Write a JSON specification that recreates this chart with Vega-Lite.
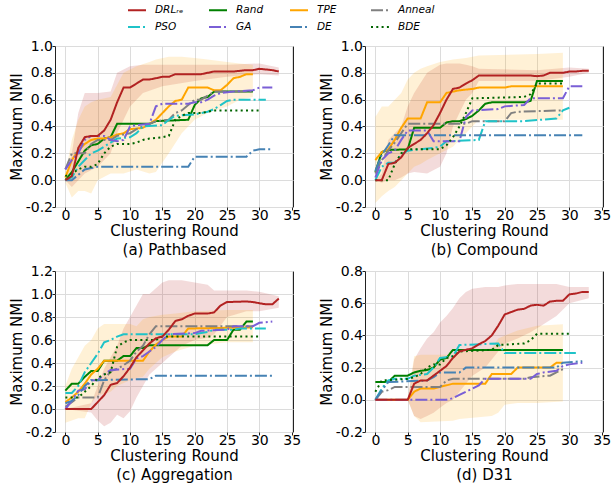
{
"$schema":"https://vega.github.io/schema/vega-lite/v6.json",
"background":"white",
"padding":{"left":8,"top":0,"right":0,"bottom":0},
"datasets":{
"lines":[
{"p":"a","m":"Rand","x":0,"y":0},{"p":"a","m":"Rand","x":1,"y":0.06},{"p":"a","m":"Rand","x":2,"y":0.14},{"p":"a","m":"Rand","x":3,"y":0.22},{"p":"a","m":"Rand","x":4,"y":0.26},{"p":"a","m":"Rand","x":5,"y":0.27},{"p":"a","m":"Rand","x":6,"y":0.31},{"p":"a","m":"Rand","x":7,"y":0.32},{"p":"a","m":"Rand","x":8,"y":0.42},{"p":"a","m":"Rand","x":13,"y":0.42},{"p":"a","m":"Rand","x":14,"y":0.44},{"p":"a","m":"Rand","x":19,"y":0.45},{"p":"a","m":"Rand","x":20,"y":0.56},{"p":"a","m":"Rand","x":21,"y":0.61},{"p":"a","m":"Rand","x":22,"y":0.62},{"p":"a","m":"Rand","x":23,"y":0.66},{"p":"a","m":"Rand","x":29,"y":0.66},
{"p":"a","m":"TPE","x":0,"y":0.02},{"p":"a","m":"TPE","x":1,"y":0.15},{"p":"a","m":"TPE","x":2,"y":0.22},{"p":"a","m":"TPE","x":3,"y":0.27},{"p":"a","m":"TPE","x":4,"y":0.3},{"p":"a","m":"TPE","x":5,"y":0.31},{"p":"a","m":"TPE","x":6,"y":0.31},{"p":"a","m":"TPE","x":7,"y":0.32},{"p":"a","m":"TPE","x":8,"y":0.34},{"p":"a","m":"TPE","x":9,"y":0.35},{"p":"a","m":"TPE","x":10,"y":0.38},{"p":"a","m":"TPE","x":12,"y":0.39},{"p":"a","m":"TPE","x":13,"y":0.42},{"p":"a","m":"TPE","x":14,"y":0.45},{"p":"a","m":"TPE","x":15,"y":0.5},{"p":"a","m":"TPE","x":16,"y":0.55},{"p":"a","m":"TPE","x":17,"y":0.59},{"p":"a","m":"TPE","x":18,"y":0.6},{"p":"a","m":"TPE","x":19,"y":0.69},{"p":"a","m":"TPE","x":22,"y":0.69},{"p":"a","m":"TPE","x":23,"y":0.67},{"p":"a","m":"TPE","x":24,"y":0.67},{"p":"a","m":"TPE","x":25,"y":0.71},{"p":"a","m":"TPE","x":26,"y":0.76},{"p":"a","m":"TPE","x":27,"y":0.77},{"p":"a","m":"TPE","x":28,"y":0.79},{"p":"a","m":"TPE","x":29,"y":0.79},
{"p":"a","m":"Anneal","x":0,"y":0.08},{"p":"a","m":"Anneal","x":1,"y":0.2},{"p":"a","m":"Anneal","x":3,"y":0.2},{"p":"a","m":"Anneal","x":4,"y":0.27},{"p":"a","m":"Anneal","x":5,"y":0.3},{"p":"a","m":"Anneal","x":7,"y":0.3},{"p":"a","m":"Anneal","x":8,"y":0.33},{"p":"a","m":"Anneal","x":10,"y":0.35},{"p":"a","m":"Anneal","x":11,"y":0.38},{"p":"a","m":"Anneal","x":12,"y":0.4},{"p":"a","m":"Anneal","x":13,"y":0.42},{"p":"a","m":"Anneal","x":14,"y":0.44},{"p":"a","m":"Anneal","x":16,"y":0.45},{"p":"a","m":"Anneal","x":17,"y":0.5},{"p":"a","m":"Anneal","x":18,"y":0.52},{"p":"a","m":"Anneal","x":19,"y":0.56},{"p":"a","m":"Anneal","x":20,"y":0.6},{"p":"a","m":"Anneal","x":21,"y":0.6},{"p":"a","m":"Anneal","x":22,"y":0.63},{"p":"a","m":"Anneal","x":23,"y":0.66},{"p":"a","m":"Anneal","x":29,"y":0.66},
{"p":"a","m":"PSO","x":0,"y":0},{"p":"a","m":"PSO","x":1,"y":0.02},{"p":"a","m":"PSO","x":2,"y":0.1},{"p":"a","m":"PSO","x":3,"y":0.15},{"p":"a","m":"PSO","x":4,"y":0.2},{"p":"a","m":"PSO","x":5,"y":0.22},{"p":"a","m":"PSO","x":6,"y":0.25},{"p":"a","m":"PSO","x":7,"y":0.28},{"p":"a","m":"PSO","x":8,"y":0.31},{"p":"a","m":"PSO","x":10,"y":0.32},{"p":"a","m":"PSO","x":11,"y":0.35},{"p":"a","m":"PSO","x":12,"y":0.4},{"p":"a","m":"PSO","x":15,"y":0.41},{"p":"a","m":"PSO","x":16,"y":0.45},{"p":"a","m":"PSO","x":17,"y":0.48},{"p":"a","m":"PSO","x":20,"y":0.49},{"p":"a","m":"PSO","x":22,"y":0.51},{"p":"a","m":"PSO","x":23,"y":0.53},{"p":"a","m":"PSO","x":24,"y":0.56},{"p":"a","m":"PSO","x":25,"y":0.59},{"p":"a","m":"PSO","x":26,"y":0.6},{"p":"a","m":"PSO","x":31,"y":0.6},
{"p":"a","m":"GA","x":0,"y":0.08},{"p":"a","m":"GA","x":1,"y":0.15},{"p":"a","m":"GA","x":2,"y":0.2},{"p":"a","m":"GA","x":3,"y":0.3},{"p":"a","m":"GA","x":4,"y":0.33},{"p":"a","m":"GA","x":6,"y":0.33},{"p":"a","m":"GA","x":7,"y":0.3},{"p":"a","m":"GA","x":8,"y":0.29},{"p":"a","m":"GA","x":9,"y":0.3},{"p":"a","m":"GA","x":10,"y":0.4},{"p":"a","m":"GA","x":11,"y":0.41},{"p":"a","m":"GA","x":13,"y":0.42},{"p":"a","m":"GA","x":14,"y":0.55},{"p":"a","m":"GA","x":15,"y":0.57},{"p":"a","m":"GA","x":19,"y":0.57},{"p":"a","m":"GA","x":20,"y":0.58},{"p":"a","m":"GA","x":21,"y":0.58},{"p":"a","m":"GA","x":22,"y":0.6},{"p":"a","m":"GA","x":23,"y":0.63},{"p":"a","m":"GA","x":24,"y":0.65},{"p":"a","m":"GA","x":26,"y":0.66},{"p":"a","m":"GA","x":29,"y":0.67},{"p":"a","m":"GA","x":30,"y":0.69},{"p":"a","m":"GA","x":32,"y":0.69},
{"p":"a","m":"DE","x":0,"y":0},{"p":"a","m":"DE","x":1,"y":0},{"p":"a","m":"DE","x":2,"y":0.04},{"p":"a","m":"DE","x":3,"y":0.08},{"p":"a","m":"DE","x":4,"y":0.09},{"p":"a","m":"DE","x":5,"y":0.1},{"p":"a","m":"DE","x":19,"y":0.1},{"p":"a","m":"DE","x":20,"y":0.175},{"p":"a","m":"DE","x":28,"y":0.175},{"p":"a","m":"DE","x":29,"y":0.22},{"p":"a","m":"DE","x":30,"y":0.23},{"p":"a","m":"DE","x":32,"y":0.23},
{"p":"a","m":"BDE","x":0,"y":0.03},{"p":"a","m":"BDE","x":1,"y":0.05},{"p":"a","m":"BDE","x":2,"y":0.08},{"p":"a","m":"BDE","x":3,"y":0.1},{"p":"a","m":"BDE","x":4,"y":0.1},{"p":"a","m":"BDE","x":5,"y":0.12},{"p":"a","m":"BDE","x":6,"y":0.2},{"p":"a","m":"BDE","x":7,"y":0.25},{"p":"a","m":"BDE","x":8,"y":0.27},{"p":"a","m":"BDE","x":10,"y":0.27},{"p":"a","m":"BDE","x":11,"y":0.28},{"p":"a","m":"BDE","x":12,"y":0.3},{"p":"a","m":"BDE","x":13,"y":0.31},{"p":"a","m":"BDE","x":15,"y":0.32},{"p":"a","m":"BDE","x":16,"y":0.33},{"p":"a","m":"BDE","x":17,"y":0.45},{"p":"a","m":"BDE","x":18,"y":0.48},{"p":"a","m":"BDE","x":19,"y":0.5},{"p":"a","m":"BDE","x":21,"y":0.5},{"p":"a","m":"BDE","x":22,"y":0.51},{"p":"a","m":"BDE","x":23,"y":0.52},{"p":"a","m":"BDE","x":30,"y":0.52},
{"p":"a","m":"DRL","x":0,"y":0},{"p":"a","m":"DRL","x":1,"y":0.03},{"p":"a","m":"DRL","x":2,"y":0.24},{"p":"a","m":"DRL","x":3,"y":0.32},{"p":"a","m":"DRL","x":4,"y":0.33},{"p":"a","m":"DRL","x":5,"y":0.33},{"p":"a","m":"DRL","x":6,"y":0.37},{"p":"a","m":"DRL","x":7,"y":0.45},{"p":"a","m":"DRL","x":8,"y":0.58},{"p":"a","m":"DRL","x":9,"y":0.69},{"p":"a","m":"DRL","x":10,"y":0.69},{"p":"a","m":"DRL","x":11,"y":0.72},{"p":"a","m":"DRL","x":12,"y":0.75},{"p":"a","m":"DRL","x":13,"y":0.75},{"p":"a","m":"DRL","x":14,"y":0.76},{"p":"a","m":"DRL","x":15,"y":0.77},{"p":"a","m":"DRL","x":16,"y":0.77},{"p":"a","m":"DRL","x":17,"y":0.79},{"p":"a","m":"DRL","x":21,"y":0.79},{"p":"a","m":"DRL","x":22,"y":0.8},{"p":"a","m":"DRL","x":23,"y":0.81},{"p":"a","m":"DRL","x":26,"y":0.81},{"p":"a","m":"DRL","x":27,"y":0.815},{"p":"a","m":"DRL","x":28,"y":0.82},{"p":"a","m":"DRL","x":29,"y":0.82},{"p":"a","m":"DRL","x":30,"y":0.83},{"p":"a","m":"DRL","x":31,"y":0.825},{"p":"a","m":"DRL","x":32,"y":0.82},{"p":"a","m":"DRL","x":33,"y":0.81},

{"p":"b","m":"Rand","x":0,"y":0.06},{"p":"b","m":"Rand","x":1,"y":0.21},{"p":"b","m":"Rand","x":2,"y":0.225},{"p":"b","m":"Rand","x":5,"y":0.23},{"p":"b","m":"Rand","x":6,"y":0.39},{"p":"b","m":"Rand","x":10,"y":0.39},{"p":"b","m":"Rand","x":11,"y":0.43},{"p":"b","m":"Rand","x":12,"y":0.44},{"p":"b","m":"Rand","x":13,"y":0.44},{"p":"b","m":"Rand","x":14,"y":0.455},{"p":"b","m":"Rand","x":15,"y":0.48},{"p":"b","m":"Rand","x":16,"y":0.52},{"p":"b","m":"Rand","x":17,"y":0.57},{"p":"b","m":"Rand","x":18,"y":0.58},{"p":"b","m":"Rand","x":23,"y":0.58},{"p":"b","m":"Rand","x":24,"y":0.59},{"p":"b","m":"Rand","x":25,"y":0.74},{"p":"b","m":"Rand","x":29,"y":0.74},
{"p":"b","m":"TPE","x":0,"y":0.15},{"p":"b","m":"TPE","x":1,"y":0.21},{"p":"b","m":"TPE","x":2,"y":0.23},{"p":"b","m":"TPE","x":3,"y":0.3},{"p":"b","m":"TPE","x":4,"y":0.39},{"p":"b","m":"TPE","x":5,"y":0.46},{"p":"b","m":"TPE","x":7,"y":0.46},{"p":"b","m":"TPE","x":8,"y":0.58},{"p":"b","m":"TPE","x":10,"y":0.58},{"p":"b","m":"TPE","x":11,"y":0.65},{"p":"b","m":"TPE","x":12,"y":0.66},{"p":"b","m":"TPE","x":13,"y":0.67},{"p":"b","m":"TPE","x":15,"y":0.68},{"p":"b","m":"TPE","x":16,"y":0.69},{"p":"b","m":"TPE","x":20,"y":0.69},{"p":"b","m":"TPE","x":21,"y":0.7},{"p":"b","m":"TPE","x":29,"y":0.7},
{"p":"b","m":"Anneal","x":0,"y":0.05},{"p":"b","m":"Anneal","x":1,"y":0.15},{"p":"b","m":"Anneal","x":2,"y":0.22},{"p":"b","m":"Anneal","x":3,"y":0.28},{"p":"b","m":"Anneal","x":4,"y":0.35},{"p":"b","m":"Anneal","x":5,"y":0.42},{"p":"b","m":"Anneal","x":14,"y":0.42},{"p":"b","m":"Anneal","x":15,"y":0.44},{"p":"b","m":"Anneal","x":20,"y":0.44},{"p":"b","m":"Anneal","x":21,"y":0.5},{"p":"b","m":"Anneal","x":22,"y":0.51},{"p":"b","m":"Anneal","x":29,"y":0.52},
{"p":"b","m":"PSO","x":0,"y":0},{"p":"b","m":"PSO","x":1,"y":0.1},{"p":"b","m":"PSO","x":2,"y":0.13},{"p":"b","m":"PSO","x":3,"y":0.13},{"p":"b","m":"PSO","x":4,"y":0.19},{"p":"b","m":"PSO","x":5,"y":0.22},{"p":"b","m":"PSO","x":9,"y":0.24},{"p":"b","m":"PSO","x":10,"y":0.25},{"p":"b","m":"PSO","x":11,"y":0.29},{"p":"b","m":"PSO","x":16,"y":0.3},{"p":"b","m":"PSO","x":17,"y":0.44},{"p":"b","m":"PSO","x":23,"y":0.44},{"p":"b","m":"PSO","x":28,"y":0.46},{"p":"b","m":"PSO","x":29,"y":0.52},{"p":"b","m":"PSO","x":30,"y":0.54},
{"p":"b","m":"GA","x":0,"y":0.02},{"p":"b","m":"GA","x":1,"y":0.15},{"p":"b","m":"GA","x":2,"y":0.2},{"p":"b","m":"GA","x":3,"y":0.22},{"p":"b","m":"GA","x":4,"y":0.3},{"p":"b","m":"GA","x":5,"y":0.37},{"p":"b","m":"GA","x":8,"y":0.37},{"p":"b","m":"GA","x":9,"y":0.29},{"p":"b","m":"GA","x":13,"y":0.29},{"p":"b","m":"GA","x":14,"y":0.47},{"p":"b","m":"GA","x":15,"y":0.52},{"p":"b","m":"GA","x":19,"y":0.53},{"p":"b","m":"GA","x":20,"y":0.55},{"p":"b","m":"GA","x":23,"y":0.56},{"p":"b","m":"GA","x":24,"y":0.61},{"p":"b","m":"GA","x":29,"y":0.61},{"p":"b","m":"GA","x":30,"y":0.7},{"p":"b","m":"GA","x":32,"y":0.7},
{"p":"b","m":"DE","x":0,"y":0.07},{"p":"b","m":"DE","x":1,"y":0.19},{"p":"b","m":"DE","x":2,"y":0.26},{"p":"b","m":"DE","x":3,"y":0.335},{"p":"b","m":"DE","x":32,"y":0.335},
{"p":"b","m":"BDE","x":0,"y":0},{"p":"b","m":"BDE","x":2,"y":0},{"p":"b","m":"BDE","x":3,"y":0.12},{"p":"b","m":"BDE","x":4,"y":0.2},{"p":"b","m":"BDE","x":5,"y":0.23},{"p":"b","m":"BDE","x":10,"y":0.23},{"p":"b","m":"BDE","x":11,"y":0.26},{"p":"b","m":"BDE","x":12,"y":0.32},{"p":"b","m":"BDE","x":13,"y":0.4},{"p":"b","m":"BDE","x":14,"y":0.5},{"p":"b","m":"BDE","x":15,"y":0.61},{"p":"b","m":"BDE","x":23,"y":0.62},{"p":"b","m":"BDE","x":24,"y":0.64},{"p":"b","m":"BDE","x":25,"y":0.72},{"p":"b","m":"BDE","x":29,"y":0.72},
{"p":"b","m":"DRL","x":0,"y":0},{"p":"b","m":"DRL","x":1,"y":0},{"p":"b","m":"DRL","x":2,"y":0.12},{"p":"b","m":"DRL","x":3,"y":0.13},{"p":"b","m":"DRL","x":4,"y":0.17},{"p":"b","m":"DRL","x":5,"y":0.24},{"p":"b","m":"DRL","x":6,"y":0.27},{"p":"b","m":"DRL","x":7,"y":0.3},{"p":"b","m":"DRL","x":8,"y":0.35},{"p":"b","m":"DRL","x":9,"y":0.41},{"p":"b","m":"DRL","x":10,"y":0.5},{"p":"b","m":"DRL","x":11,"y":0.6},{"p":"b","m":"DRL","x":12,"y":0.68},{"p":"b","m":"DRL","x":13,"y":0.69},{"p":"b","m":"DRL","x":14,"y":0.72},{"p":"b","m":"DRL","x":15,"y":0.745},{"p":"b","m":"DRL","x":16,"y":0.78},{"p":"b","m":"DRL","x":24,"y":0.78},{"p":"b","m":"DRL","x":25,"y":0.775},{"p":"b","m":"DRL","x":26,"y":0.78},{"p":"b","m":"DRL","x":27,"y":0.8},{"p":"b","m":"DRL","x":29,"y":0.8},{"p":"b","m":"DRL","x":30,"y":0.81},{"p":"b","m":"DRL","x":31,"y":0.81},{"p":"b","m":"DRL","x":32,"y":0.815},{"p":"b","m":"DRL","x":33,"y":0.815},

{"p":"c","m":"Rand","x":0,"y":0.16},{"p":"c","m":"Rand","x":1,"y":0.22},{"p":"c","m":"Rand","x":2,"y":0.22},{"p":"c","m":"Rand","x":3,"y":0.28},{"p":"c","m":"Rand","x":4,"y":0.33},{"p":"c","m":"Rand","x":5,"y":0.33},{"p":"c","m":"Rand","x":6,"y":0.42},{"p":"c","m":"Rand","x":8,"y":0.42},{"p":"c","m":"Rand","x":9,"y":0.46},{"p":"c","m":"Rand","x":10,"y":0.46},{"p":"c","m":"Rand","x":11,"y":0.53},{"p":"c","m":"Rand","x":12,"y":0.53},{"p":"c","m":"Rand","x":13,"y":0.555},{"p":"c","m":"Rand","x":22,"y":0.555},{"p":"c","m":"Rand","x":23,"y":0.6},{"p":"c","m":"Rand","x":25,"y":0.6},{"p":"c","m":"Rand","x":26,"y":0.69},{"p":"c","m":"Rand","x":27,"y":0.69},{"p":"c","m":"Rand","x":28,"y":0.76},{"p":"c","m":"Rand","x":29,"y":0.76},
{"p":"c","m":"TPE","x":0,"y":0.06},{"p":"c","m":"TPE","x":1,"y":0.1},{"p":"c","m":"TPE","x":2,"y":0.15},{"p":"c","m":"TPE","x":3,"y":0.22},{"p":"c","m":"TPE","x":4,"y":0.3},{"p":"c","m":"TPE","x":5,"y":0.35},{"p":"c","m":"TPE","x":6,"y":0.42},{"p":"c","m":"TPE","x":12,"y":0.42},{"p":"c","m":"TPE","x":13,"y":0.5},{"p":"c","m":"TPE","x":14,"y":0.56},{"p":"c","m":"TPE","x":15,"y":0.6},{"p":"c","m":"TPE","x":16,"y":0.63},{"p":"c","m":"TPE","x":18,"y":0.63},{"p":"c","m":"TPE","x":19,"y":0.7},{"p":"c","m":"TPE","x":29,"y":0.71},
{"p":"c","m":"Anneal","x":0,"y":0.02},{"p":"c","m":"Anneal","x":1,"y":0.06},{"p":"c","m":"Anneal","x":2,"y":0.1},{"p":"c","m":"Anneal","x":5,"y":0.1},{"p":"c","m":"Anneal","x":6,"y":0.25},{"p":"c","m":"Anneal","x":7,"y":0.33},{"p":"c","m":"Anneal","x":8,"y":0.35},{"p":"c","m":"Anneal","x":9,"y":0.38},{"p":"c","m":"Anneal","x":10,"y":0.42},{"p":"c","m":"Anneal","x":11,"y":0.5},{"p":"c","m":"Anneal","x":12,"y":0.55},{"p":"c","m":"Anneal","x":13,"y":0.65},{"p":"c","m":"Anneal","x":14,"y":0.72},{"p":"c","m":"Anneal","x":29,"y":0.72},
{"p":"c","m":"PSO","x":0,"y":0.14},{"p":"c","m":"PSO","x":1,"y":0.14},{"p":"c","m":"PSO","x":2,"y":0.2},{"p":"c","m":"PSO","x":3,"y":0.32},{"p":"c","m":"PSO","x":4,"y":0.4},{"p":"c","m":"PSO","x":5,"y":0.48},{"p":"c","m":"PSO","x":6,"y":0.58},{"p":"c","m":"PSO","x":7,"y":0.6},{"p":"c","m":"PSO","x":8,"y":0.63},{"p":"c","m":"PSO","x":9,"y":0.65},{"p":"c","m":"PSO","x":20,"y":0.65},{"p":"c","m":"PSO","x":21,"y":0.66},{"p":"c","m":"PSO","x":22,"y":0.67},{"p":"c","m":"PSO","x":23,"y":0.69},{"p":"c","m":"PSO","x":26,"y":0.69},{"p":"c","m":"PSO","x":27,"y":0.7},{"p":"c","m":"PSO","x":31,"y":0.7},
{"p":"c","m":"GA","x":0,"y":0},{"p":"c","m":"GA","x":1,"y":0.07},{"p":"c","m":"GA","x":2,"y":0.16},{"p":"c","m":"GA","x":3,"y":0.17},{"p":"c","m":"GA","x":4,"y":0.25},{"p":"c","m":"GA","x":5,"y":0.25},{"p":"c","m":"GA","x":6,"y":0.3},{"p":"c","m":"GA","x":7,"y":0.34},{"p":"c","m":"GA","x":10,"y":0.35},{"p":"c","m":"GA","x":11,"y":0.44},{"p":"c","m":"GA","x":12,"y":0.46},{"p":"c","m":"GA","x":13,"y":0.5},{"p":"c","m":"GA","x":14,"y":0.54},{"p":"c","m":"GA","x":15,"y":0.6},{"p":"c","m":"GA","x":16,"y":0.65},{"p":"c","m":"GA","x":20,"y":0.66},{"p":"c","m":"GA","x":21,"y":0.68},{"p":"c","m":"GA","x":25,"y":0.69},{"p":"c","m":"GA","x":26,"y":0.72},{"p":"c","m":"GA","x":29,"y":0.72},{"p":"c","m":"GA","x":30,"y":0.75},{"p":"c","m":"GA","x":32,"y":0.76},
{"p":"c","m":"DE","x":0,"y":0.05},{"p":"c","m":"DE","x":1,"y":0.07},{"p":"c","m":"DE","x":2,"y":0.12},{"p":"c","m":"DE","x":3,"y":0.2},{"p":"c","m":"DE","x":4,"y":0.25},{"p":"c","m":"DE","x":13,"y":0.26},{"p":"c","m":"DE","x":14,"y":0.29},{"p":"c","m":"DE","x":32,"y":0.29},
{"p":"c","m":"BDE","x":0,"y":0.1},{"p":"c","m":"BDE","x":2,"y":0.1},{"p":"c","m":"BDE","x":3,"y":0.15},{"p":"c","m":"BDE","x":4,"y":0.2},{"p":"c","m":"BDE","x":5,"y":0.27},{"p":"c","m":"BDE","x":6,"y":0.3},{"p":"c","m":"BDE","x":7,"y":0.32},{"p":"c","m":"BDE","x":8,"y":0.54},{"p":"c","m":"BDE","x":9,"y":0.58},{"p":"c","m":"BDE","x":10,"y":0.6},{"p":"c","m":"BDE","x":14,"y":0.6},{"p":"c","m":"BDE","x":15,"y":0.63},{"p":"c","m":"BDE","x":30,"y":0.63},
{"p":"c","m":"DRL","x":0,"y":0},{"p":"c","m":"DRL","x":4,"y":0},{"p":"c","m":"DRL","x":5,"y":0.06},{"p":"c","m":"DRL","x":6,"y":0.12},{"p":"c","m":"DRL","x":7,"y":0.21},{"p":"c","m":"DRL","x":8,"y":0.225},{"p":"c","m":"DRL","x":9,"y":0.285},{"p":"c","m":"DRL","x":10,"y":0.36},{"p":"c","m":"DRL","x":11,"y":0.45},{"p":"c","m":"DRL","x":12,"y":0.51},{"p":"c","m":"DRL","x":13,"y":0.57},{"p":"c","m":"DRL","x":14,"y":0.615},{"p":"c","m":"DRL","x":15,"y":0.63},{"p":"c","m":"DRL","x":16,"y":0.69},{"p":"c","m":"DRL","x":17,"y":0.765},{"p":"c","m":"DRL","x":18,"y":0.78},{"p":"c","m":"DRL","x":19,"y":0.81},{"p":"c","m":"DRL","x":20,"y":0.83},{"p":"c","m":"DRL","x":22,"y":0.83},{"p":"c","m":"DRL","x":23,"y":0.84},{"p":"c","m":"DRL","x":24,"y":0.9},{"p":"c","m":"DRL","x":25,"y":0.93},{"p":"c","m":"DRL","x":28,"y":0.935},{"p":"c","m":"DRL","x":29,"y":0.93},{"p":"c","m":"DRL","x":30,"y":0.92},{"p":"c","m":"DRL","x":31,"y":0.91},{"p":"c","m":"DRL","x":32,"y":0.91},{"p":"c","m":"DRL","x":33,"y":0.96},

{"p":"d","m":"Rand","x":0,"y":0.11},{"p":"d","m":"Rand","x":2,"y":0.11},{"p":"d","m":"Rand","x":3,"y":0.15},{"p":"d","m":"Rand","x":5,"y":0.15},{"p":"d","m":"Rand","x":6,"y":0.17},{"p":"d","m":"Rand","x":7,"y":0.18},{"p":"d","m":"Rand","x":8,"y":0.185},{"p":"d","m":"Rand","x":9,"y":0.2},{"p":"d","m":"Rand","x":10,"y":0.25},{"p":"d","m":"Rand","x":11,"y":0.26},{"p":"d","m":"Rand","x":12,"y":0.31},{"p":"d","m":"Rand","x":29,"y":0.31},
{"p":"d","m":"TPE","x":0,"y":0},{"p":"d","m":"TPE","x":5,"y":0},{"p":"d","m":"TPE","x":6,"y":0.05},{"p":"d","m":"TPE","x":7,"y":0.07},{"p":"d","m":"TPE","x":9,"y":0.07},{"p":"d","m":"TPE","x":10,"y":0.08},{"p":"d","m":"TPE","x":11,"y":0.09},{"p":"d","m":"TPE","x":12,"y":0.1},{"p":"d","m":"TPE","x":17,"y":0.1},{"p":"d","m":"TPE","x":18,"y":0.16},{"p":"d","m":"TPE","x":21,"y":0.16},{"p":"d","m":"TPE","x":22,"y":0.2},{"p":"d","m":"TPE","x":27,"y":0.2},{"p":"d","m":"TPE","x":28,"y":0.23},{"p":"d","m":"TPE","x":29,"y":0.23},
{"p":"d","m":"Anneal","x":0,"y":0},{"p":"d","m":"Anneal","x":1,"y":0.05},{"p":"d","m":"Anneal","x":2,"y":0.06},{"p":"d","m":"Anneal","x":3,"y":0.08},{"p":"d","m":"Anneal","x":10,"y":0.08},{"p":"d","m":"Anneal","x":11,"y":0.12},{"p":"d","m":"Anneal","x":12,"y":0.13},{"p":"d","m":"Anneal","x":23,"y":0.13},{"p":"d","m":"Anneal","x":24,"y":0.14},{"p":"d","m":"Anneal","x":27,"y":0.15},{"p":"d","m":"Anneal","x":28,"y":0.17},{"p":"d","m":"Anneal","x":29,"y":0.19},
{"p":"d","m":"PSO","x":0,"y":0},{"p":"d","m":"PSO","x":1,"y":0.07},{"p":"d","m":"PSO","x":2,"y":0.12},{"p":"d","m":"PSO","x":3,"y":0.13},{"p":"d","m":"PSO","x":5,"y":0.13},{"p":"d","m":"PSO","x":6,"y":0.15},{"p":"d","m":"PSO","x":8,"y":0.16},{"p":"d","m":"PSO","x":9,"y":0.2},{"p":"d","m":"PSO","x":10,"y":0.26},{"p":"d","m":"PSO","x":12,"y":0.27},{"p":"d","m":"PSO","x":13,"y":0.34},{"p":"d","m":"PSO","x":19,"y":0.35},{"p":"d","m":"PSO","x":20,"y":0.29},{"p":"d","m":"PSO","x":31,"y":0.29},
{"p":"d","m":"GA","x":0,"y":0},{"p":"d","m":"GA","x":11,"y":0},{"p":"d","m":"GA","x":12,"y":0.01},{"p":"d","m":"GA","x":13,"y":0.03},{"p":"d","m":"GA","x":14,"y":0.05},{"p":"d","m":"GA","x":15,"y":0.07},{"p":"d","m":"GA","x":16,"y":0.09},{"p":"d","m":"GA","x":17,"y":0.13},{"p":"d","m":"GA","x":24,"y":0.13},{"p":"d","m":"GA","x":25,"y":0.16},{"p":"d","m":"GA","x":26,"y":0.17},{"p":"d","m":"GA","x":28,"y":0.18},{"p":"d","m":"GA","x":29,"y":0.21},{"p":"d","m":"GA","x":30,"y":0.22},{"p":"d","m":"GA","x":32,"y":0.23},
{"p":"d","m":"DE","x":0,"y":0},{"p":"d","m":"DE","x":1,"y":0.06},{"p":"d","m":"DE","x":2,"y":0.11},{"p":"d","m":"DE","x":8,"y":0.12},{"p":"d","m":"DE","x":9,"y":0.14},{"p":"d","m":"DE","x":10,"y":0.17},{"p":"d","m":"DE","x":13,"y":0.17},{"p":"d","m":"DE","x":14,"y":0.2},{"p":"d","m":"DE","x":28,"y":0.2},{"p":"d","m":"DE","x":29,"y":0.23},{"p":"d","m":"DE","x":32,"y":0.24},
{"p":"d","m":"BDE","x":0,"y":0.05},{"p":"d","m":"BDE","x":1,"y":0.12},{"p":"d","m":"BDE","x":5,"y":0.13},{"p":"d","m":"BDE","x":6,"y":0.14},{"p":"d","m":"BDE","x":7,"y":0.16},{"p":"d","m":"BDE","x":8,"y":0.2},{"p":"d","m":"BDE","x":9,"y":0.22},{"p":"d","m":"BDE","x":10,"y":0.22},{"p":"d","m":"BDE","x":11,"y":0.26},{"p":"d","m":"BDE","x":12,"y":0.27},{"p":"d","m":"BDE","x":13,"y":0.3},{"p":"d","m":"BDE","x":18,"y":0.31},{"p":"d","m":"BDE","x":19,"y":0.34},{"p":"d","m":"BDE","x":23,"y":0.35},{"p":"d","m":"BDE","x":24,"y":0.37},{"p":"d","m":"BDE","x":25,"y":0.41},{"p":"d","m":"BDE","x":30,"y":0.41},
{"p":"d","m":"DRL","x":0,"y":0},{"p":"d","m":"DRL","x":5,"y":0},{"p":"d","m":"DRL","x":6,"y":0.1},{"p":"d","m":"DRL","x":7,"y":0.12},{"p":"d","m":"DRL","x":8,"y":0.12},{"p":"d","m":"DRL","x":9,"y":0.15},{"p":"d","m":"DRL","x":10,"y":0.18},{"p":"d","m":"DRL","x":11,"y":0.21},{"p":"d","m":"DRL","x":12,"y":0.26},{"p":"d","m":"DRL","x":13,"y":0.3},{"p":"d","m":"DRL","x":14,"y":0.31},{"p":"d","m":"DRL","x":15,"y":0.32},{"p":"d","m":"DRL","x":16,"y":0.345},{"p":"d","m":"DRL","x":17,"y":0.365},{"p":"d","m":"DRL","x":18,"y":0.4},{"p":"d","m":"DRL","x":19,"y":0.46},{"p":"d","m":"DRL","x":20,"y":0.53},{"p":"d","m":"DRL","x":21,"y":0.545},{"p":"d","m":"DRL","x":22,"y":0.56},{"p":"d","m":"DRL","x":23,"y":0.565},{"p":"d","m":"DRL","x":24,"y":0.585},{"p":"d","m":"DRL","x":25,"y":0.59},{"p":"d","m":"DRL","x":26,"y":0.585},{"p":"d","m":"DRL","x":27,"y":0.61},{"p":"d","m":"DRL","x":28,"y":0.615},{"p":"d","m":"DRL","x":29,"y":0.615},{"p":"d","m":"DRL","x":30,"y":0.655},{"p":"d","m":"DRL","x":31,"y":0.66},{"p":"d","m":"DRL","x":32,"y":0.67},{"p":"d","m":"DRL","x":33,"y":0.67}
],
"bands":[
{"p":"a","m":"DRL","x":0,"y":0,"y2":0},{"p":"a","m":"DRL","x":1,"y":-0.05,"y2":0.2},{"p":"a","m":"DRL","x":2,"y":0,"y2":0.5},{"p":"a","m":"DRL","x":3,"y":0.05,"y2":0.65},{"p":"a","m":"DRL","x":5,"y":0.1,"y2":0.65},{"p":"a","m":"DRL","x":7,"y":0.2,"y2":0.66},{"p":"a","m":"DRL","x":8,"y":0.35,"y2":0.8},{"p":"a","m":"DRL","x":10,"y":0.55,"y2":0.85},{"p":"a","m":"DRL","x":12,"y":0.65,"y2":0.86},{"p":"a","m":"DRL","x":15,"y":0.7,"y2":0.86},{"p":"a","m":"DRL","x":20,"y":0.74,"y2":0.86},{"p":"a","m":"DRL","x":25,"y":0.77,"y2":0.86},{"p":"a","m":"DRL","x":30,"y":0.79,"y2":0.87},{"p":"a","m":"DRL","x":33,"y":0.78,"y2":0.84},
{"p":"a","m":"TPE","x":0,"y":-0.02,"y2":0.05},{"p":"a","m":"TPE","x":1,"y":-0.13,"y2":0.3},{"p":"a","m":"TPE","x":2,"y":-0.08,"y2":0.45},{"p":"a","m":"TPE","x":3,"y":-0.08,"y2":0.55},{"p":"a","m":"TPE","x":4,"y":-0.1,"y2":0.58},{"p":"a","m":"TPE","x":5,"y":0,"y2":0.6},{"p":"a","m":"TPE","x":7,"y":0.05,"y2":0.62},{"p":"a","m":"TPE","x":9,"y":0.05,"y2":0.8},{"p":"a","m":"TPE","x":11,"y":0.08,"y2":0.85},{"p":"a","m":"TPE","x":13,"y":0.05,"y2":0.88},{"p":"a","m":"TPE","x":14,"y":0.06,"y2":0.9},{"p":"a","m":"TPE","x":16,"y":0.2,"y2":0.92},{"p":"a","m":"TPE","x":18,"y":0.35,"y2":0.92},{"p":"a","m":"TPE","x":20,"y":0.45,"y2":0.91},{"p":"a","m":"TPE","x":22,"y":0.5,"y2":0.9},{"p":"a","m":"TPE","x":25,"y":0.55,"y2":0.88},{"p":"a","m":"TPE","x":27,"y":0.6,"y2":0.87},{"p":"a","m":"TPE","x":29,"y":0.62,"y2":0.86},
{"p":"b","m":"DRL","x":0,"y":0,"y2":0},{"p":"b","m":"DRL","x":1,"y":-0.02,"y2":0.05},{"p":"b","m":"DRL","x":2,"y":0,"y2":0.3},{"p":"b","m":"DRL","x":3,"y":0,"y2":0.35},{"p":"b","m":"DRL","x":4,"y":0.02,"y2":0.4},{"p":"b","m":"DRL","x":5,"y":0.05,"y2":0.55},{"p":"b","m":"DRL","x":6,"y":0.06,"y2":0.65},{"p":"b","m":"DRL","x":8,"y":0.05,"y2":0.8},{"p":"b","m":"DRL","x":10,"y":0.1,"y2":0.86},{"p":"b","m":"DRL","x":11,"y":0.2,"y2":0.87},{"p":"b","m":"DRL","x":12,"y":0.4,"y2":0.87},{"p":"b","m":"DRL","x":13,"y":0.5,"y2":0.87},{"p":"b","m":"DRL","x":14,"y":0.6,"y2":0.86},{"p":"b","m":"DRL","x":15,"y":0.65,"y2":0.85},{"p":"b","m":"DRL","x":16,"y":0.74,"y2":0.83},{"p":"b","m":"DRL","x":25,"y":0.74,"y2":0.82},{"p":"b","m":"DRL","x":30,"y":0.77,"y2":0.84},{"p":"b","m":"DRL","x":33,"y":0.8,"y2":0.83},
{"p":"b","m":"TPE","x":0,"y":-0.17,"y2":0.47},{"p":"b","m":"TPE","x":1,"y":-0.12,"y2":0.55},{"p":"b","m":"TPE","x":2,"y":-0.08,"y2":0.55},{"p":"b","m":"TPE","x":3,"y":-0.05,"y2":0.6},{"p":"b","m":"TPE","x":4,"y":0,"y2":0.65},{"p":"b","m":"TPE","x":5,"y":0.05,"y2":0.75},{"p":"b","m":"TPE","x":6,"y":0.1,"y2":0.8},{"p":"b","m":"TPE","x":7,"y":0.12,"y2":0.83},{"p":"b","m":"TPE","x":8,"y":0.15,"y2":0.85},{"p":"b","m":"TPE","x":10,"y":0.2,"y2":0.88},{"p":"b","m":"TPE","x":12,"y":0.25,"y2":0.9},{"p":"b","m":"TPE","x":14,"y":0.35,"y2":0.91},{"p":"b","m":"TPE","x":16,"y":0.45,"y2":0.93},{"p":"b","m":"TPE","x":25,"y":0.45,"y2":0.94},{"p":"b","m":"TPE","x":29,"y":0.45,"y2":0.95},
{"p":"c","m":"DRL","x":0,"y":0,"y2":0},{"p":"c","m":"DRL","x":4,"y":-0.03,"y2":0.05},{"p":"c","m":"DRL","x":5,"y":-0.1,"y2":0.2},{"p":"c","m":"DRL","x":6,"y":-0.15,"y2":0.35},{"p":"c","m":"DRL","x":7,"y":-0.12,"y2":0.45},{"p":"c","m":"DRL","x":8,"y":-0.05,"y2":0.55},{"p":"c","m":"DRL","x":9,"y":-0.08,"y2":0.7},{"p":"c","m":"DRL","x":10,"y":-0.02,"y2":0.8},{"p":"c","m":"DRL","x":11,"y":0.1,"y2":0.9},{"p":"c","m":"DRL","x":12,"y":0.2,"y2":1.0},{"p":"c","m":"DRL","x":13,"y":0.3,"y2":1.0},{"p":"c","m":"DRL","x":14,"y":0.35,"y2":1.05},{"p":"c","m":"DRL","x":15,"y":0.4,"y2":1.1},{"p":"c","m":"DRL","x":16,"y":0.45,"y2":1.12},{"p":"c","m":"DRL","x":18,"y":0.55,"y2":1.12},{"p":"c","m":"DRL","x":20,"y":0.6,"y2":1.1},{"p":"c","m":"DRL","x":22,"y":0.62,"y2":1.08},{"p":"c","m":"DRL","x":23,"y":0.65,"y2":1.03},{"p":"c","m":"DRL","x":25,"y":0.8,"y2":1.03},{"p":"c","m":"DRL","x":28,"y":0.85,"y2":1.03},{"p":"c","m":"DRL","x":30,"y":0.85,"y2":1.02},{"p":"c","m":"DRL","x":33,"y":0.88,"y2":0.98},
{"p":"c","m":"TPE","x":0,"y":-0.12,"y2":0.2},{"p":"c","m":"TPE","x":1,"y":-0.1,"y2":0.35},{"p":"c","m":"TPE","x":2,"y":-0.08,"y2":0.45},{"p":"c","m":"TPE","x":3,"y":-0.08,"y2":0.55},{"p":"c","m":"TPE","x":4,"y":0.05,"y2":0.6},{"p":"c","m":"TPE","x":5,"y":0.12,"y2":0.7},{"p":"c","m":"TPE","x":6,"y":0.13,"y2":0.74},{"p":"c","m":"TPE","x":7,"y":0.15,"y2":0.74},{"p":"c","m":"TPE","x":8,"y":0.2,"y2":0.74},{"p":"c","m":"TPE","x":10,"y":0.25,"y2":0.74},{"p":"c","m":"TPE","x":11,"y":0.27,"y2":0.72},{"p":"c","m":"TPE","x":12,"y":0.28,"y2":0.78},{"p":"c","m":"TPE","x":13,"y":0.35,"y2":0.8},{"p":"c","m":"TPE","x":15,"y":0.45,"y2":0.82},{"p":"c","m":"TPE","x":17,"y":0.5,"y2":0.83},{"p":"c","m":"TPE","x":20,"y":0.55,"y2":0.85},{"p":"c","m":"TPE","x":25,"y":0.58,"y2":0.86},{"p":"c","m":"TPE","x":29,"y":0.58,"y2":0.86},
{"p":"d","m":"DRL","x":0,"y":0,"y2":0},{"p":"d","m":"DRL","x":5,"y":0,"y2":0},{"p":"d","m":"DRL","x":6,"y":-0.1,"y2":0.25},{"p":"d","m":"DRL","x":7,"y":-0.12,"y2":0.32},{"p":"d","m":"DRL","x":8,"y":-0.1,"y2":0.38},{"p":"d","m":"DRL","x":9,"y":-0.08,"y2":0.42},{"p":"d","m":"DRL","x":10,"y":-0.05,"y2":0.48},{"p":"d","m":"DRL","x":11,"y":-0.02,"y2":0.52},{"p":"d","m":"DRL","x":12,"y":0,"y2":0.57},{"p":"d","m":"DRL","x":13,"y":0.05,"y2":0.63},{"p":"d","m":"DRL","x":14,"y":0.1,"y2":0.67},{"p":"d","m":"DRL","x":15,"y":0.15,"y2":0.69},{"p":"d","m":"DRL","x":17,"y":0.2,"y2":0.7},{"p":"d","m":"DRL","x":19,"y":0.3,"y2":0.7},{"p":"d","m":"DRL","x":20,"y":0.35,"y2":0.71},{"p":"d","m":"DRL","x":22,"y":0.38,"y2":0.72},{"p":"d","m":"DRL","x":24,"y":0.42,"y2":0.72},{"p":"d","m":"DRL","x":26,"y":0.47,"y2":0.72},{"p":"d","m":"DRL","x":28,"y":0.52,"y2":0.72},{"p":"d","m":"DRL","x":30,"y":0.6,"y2":0.7},{"p":"d","m":"DRL","x":33,"y":0.63,"y2":0.7},
{"p":"d","m":"TPE","x":0,"y":0,"y2":0},{"p":"d","m":"TPE","x":5,"y":0,"y2":0},{"p":"d","m":"TPE","x":6,"y":-0.1,"y2":0.27},{"p":"d","m":"TPE","x":7,"y":-0.14,"y2":0.28},{"p":"d","m":"TPE","x":12,"y":-0.13,"y2":0.28},{"p":"d","m":"TPE","x":13,"y":-0.12,"y2":0.3},{"p":"d","m":"TPE","x":18,"y":-0.1,"y2":0.32},{"p":"d","m":"TPE","x":19,"y":-0.08,"y2":0.38},{"p":"d","m":"TPE","x":20,"y":-0.03,"y2":0.4},{"p":"d","m":"TPE","x":22,"y":-0.02,"y2":0.43},{"p":"d","m":"TPE","x":25,"y":-0.02,"y2":0.46},{"p":"d","m":"TPE","x":29,"y":-0.01,"y2":0.47}
]
},
"columns":2,
"spacing":{"row":64,"column":72},
"bounds":"flush",
"resolve":{"scale":{"x":"independent","y":"independent","color":"shared","strokeDash":"shared"}},
"concat":[
{"width":238,"height":161,
"encoding":{"x":{"field":"x","type":"quantitative","scale":{"domain":[-1.6,35.2],"nice":false,"zero":false},"axis":{"values":[0,5,10,15,20,25,30,35],"format":"d","title":["Clustering Round","(a) Pathbased"]}},
"y":{"field":"y","type":"quantitative","scale":{"domain":[-0.2,1.0],"nice":false,"zero":false},"axis":{"values":[-0.2,0,0.2,0.4,0.6,0.8,1.0],"title":"Maximum NMI","labelExpr":"replace(format(datum.value,'.1f'),'\u2212','-')"}}},
"layer":[
{"data":{"name":"bands"},"transform":[{"filter":"datum.p=='a'&&datum.m=='DRL'"}],"mark":{"type":"area","color":"#b22222","opacity":0.16},"encoding":{"y2":{"field":"y2"}}},
{"data":{"name":"bands"},"transform":[{"filter":"datum.p=='a'&&datum.m=='TPE'"}],"mark":{"type":"area","color":"#ffa500","opacity":0.16},"encoding":{"y2":{"field":"y2"}}},
{"data":{"name":"lines"},"transform":[{"filter":"datum.p=='a'"}],"mark":{"type":"line","strokeWidth":2,"clip":true},
"encoding":{"color":{"field":"m","type":"nominal","scale":{"domain":["DRL","Rand","TPE","Anneal","PSO","GA","DE","BDE"],"range":["#b22222","#008000","#ffa500","#808080","#1fc3c8","#7a5fd6","#4682b4","#006400"]},"legend":{"labelExpr":"datum.label=='DRL'?'DRL\u1d63\u2091':datum.label"}},
"strokeDash":{"field":"m","type":"nominal","scale":{"domain":["DRL","Rand","TPE","Anneal","PSO","GA","DE","BDE"],"range":[[1,0],[1,0],[1,0],[12,3,2,3],[12,3,2,3],[12,3,2,3],[12,3,2,3],[2,3.3]]},"legend":{"labelExpr":"datum.label=='DRL'?'DRL\u1d63\u2091':datum.label"}}}}
]},
{"width":238,"height":161,
"encoding":{"x":{"field":"x","type":"quantitative","scale":{"domain":[-1.6,35.2],"nice":false,"zero":false},"axis":{"values":[0,5,10,15,20,25,30,35],"format":"d","title":["Clustering Round","(b) Compound"]}},
"y":{"field":"y","type":"quantitative","scale":{"domain":[-0.2,1.0],"nice":false,"zero":false},"axis":{"values":[-0.2,0,0.2,0.4,0.6,0.8,1.0],"title":"Maximum NMI","labelExpr":"replace(format(datum.value,'.1f'),'\u2212','-')"}}},
"layer":[
{"data":{"name":"bands"},"transform":[{"filter":"datum.p=='b'&&datum.m=='DRL'"}],"mark":{"type":"area","color":"#b22222","opacity":0.16},"encoding":{"y2":{"field":"y2"}}},
{"data":{"name":"bands"},"transform":[{"filter":"datum.p=='b'&&datum.m=='TPE'"}],"mark":{"type":"area","color":"#ffa500","opacity":0.16},"encoding":{"y2":{"field":"y2"}}},
{"data":{"name":"lines"},"transform":[{"filter":"datum.p=='b'"}],"mark":{"type":"line","strokeWidth":2,"clip":true},
"encoding":{"color":{"field":"m","type":"nominal","scale":{"domain":["DRL","Rand","TPE","Anneal","PSO","GA","DE","BDE"],"range":["#b22222","#008000","#ffa500","#808080","#1fc3c8","#7a5fd6","#4682b4","#006400"]},"legend":{"labelExpr":"datum.label=='DRL'?'DRL\u1d63\u2091':datum.label"}},
"strokeDash":{"field":"m","type":"nominal","scale":{"domain":["DRL","Rand","TPE","Anneal","PSO","GA","DE","BDE"],"range":[[1,0],[1,0],[1,0],[12,3,2,3],[12,3,2,3],[12,3,2,3],[12,3,2,3],[2,3.3]]},"legend":{"labelExpr":"datum.label=='DRL'?'DRL\u1d63\u2091':datum.label"}}}}
]},
{"width":238,"height":161,
"encoding":{"x":{"field":"x","type":"quantitative","scale":{"domain":[-1.6,35.2],"nice":false,"zero":false},"axis":{"values":[0,5,10,15,20,25,30,35],"format":"d","title":["Clustering Round","(c) Aggregation"]}},
"y":{"field":"y","type":"quantitative","scale":{"domain":[-0.2,1.2],"nice":false,"zero":false},"axis":{"values":[-0.2,0,0.2,0.4,0.6,0.8,1.0,1.2],"title":"Maximum NMI","labelExpr":"replace(format(datum.value,'.1f'),'\u2212','-')"}}},
"layer":[
{"data":{"name":"bands"},"transform":[{"filter":"datum.p=='c'&&datum.m=='DRL'"}],"mark":{"type":"area","color":"#b22222","opacity":0.16},"encoding":{"y2":{"field":"y2"}}},
{"data":{"name":"bands"},"transform":[{"filter":"datum.p=='c'&&datum.m=='TPE'"}],"mark":{"type":"area","color":"#ffa500","opacity":0.16},"encoding":{"y2":{"field":"y2"}}},
{"data":{"name":"lines"},"transform":[{"filter":"datum.p=='c'"}],"mark":{"type":"line","strokeWidth":2,"clip":true},
"encoding":{"color":{"field":"m","type":"nominal","scale":{"domain":["DRL","Rand","TPE","Anneal","PSO","GA","DE","BDE"],"range":["#b22222","#008000","#ffa500","#808080","#1fc3c8","#7a5fd6","#4682b4","#006400"]},"legend":{"labelExpr":"datum.label=='DRL'?'DRL\u1d63\u2091':datum.label"}},
"strokeDash":{"field":"m","type":"nominal","scale":{"domain":["DRL","Rand","TPE","Anneal","PSO","GA","DE","BDE"],"range":[[1,0],[1,0],[1,0],[12,3,2,3],[12,3,2,3],[12,3,2,3],[12,3,2,3],[2,3.3]]},"legend":{"labelExpr":"datum.label=='DRL'?'DRL\u1d63\u2091':datum.label"}}}}
]},
{"width":238,"height":161,
"encoding":{"x":{"field":"x","type":"quantitative","scale":{"domain":[-1.6,35.2],"nice":false,"zero":false},"axis":{"values":[0,5,10,15,20,25,30,35],"format":"d","title":["Clustering Round","(d) D31"]}},
"y":{"field":"y","type":"quantitative","scale":{"domain":[-0.2,0.8],"nice":false,"zero":false},"axis":{"values":[-0.2,0,0.2,0.4,0.6,0.8],"title":"Maximum NMI","labelExpr":"replace(format(datum.value,'.1f'),'\u2212','-')"}}},
"layer":[
{"data":{"name":"bands"},"transform":[{"filter":"datum.p=='d'&&datum.m=='DRL'"}],"mark":{"type":"area","color":"#b22222","opacity":0.16},"encoding":{"y2":{"field":"y2"}}},
{"data":{"name":"bands"},"transform":[{"filter":"datum.p=='d'&&datum.m=='TPE'"}],"mark":{"type":"area","color":"#ffa500","opacity":0.16},"encoding":{"y2":{"field":"y2"}}},
{"data":{"name":"lines"},"transform":[{"filter":"datum.p=='d'"}],"mark":{"type":"line","strokeWidth":2,"clip":true},
"encoding":{"color":{"field":"m","type":"nominal","scale":{"domain":["DRL","Rand","TPE","Anneal","PSO","GA","DE","BDE"],"range":["#b22222","#008000","#ffa500","#808080","#1fc3c8","#7a5fd6","#4682b4","#006400"]},"legend":{"labelExpr":"datum.label=='DRL'?'DRL\u1d63\u2091':datum.label"}},
"strokeDash":{"field":"m","type":"nominal","scale":{"domain":["DRL","Rand","TPE","Anneal","PSO","GA","DE","BDE"],"range":[[1,0],[1,0],[1,0],[12,3,2,3],[12,3,2,3],[12,3,2,3],[12,3,2,3],[2,3.3]]},"legend":{"labelExpr":"datum.label=='DRL'?'DRL\u1d63\u2091':datum.label"}}}}
]}
],
"config":{
"font":"DejaVu Sans",
"view":{"stroke":"#222","strokeWidth":1},
"axis":{"labelFont":"DejaVu Sans","titleFont":"DejaVu Sans","labelFontSize":14,"titleFontSize":15,"titleFontWeight":"normal","labelColor":"#000","titleColor":"#000","gridColor":"#dcdcdc","gridWidth":1,"domain":false,"tickColor":"#222","tickSize":3,"titleLineHeight":19,"labelOverlap":false,"labelFlush":false},
"axisX":{"labelPadding":-1.8,"titlePadding":1},
"axisY":{"labelPadding":-0.5,"titlePadding":1},
"legend":{"orient":"none","legendX":72,"legendY":-46,"direction":"horizontal","columns":4,"title":null,"symbolType":"stroke","symbolSize":324,"symbolStrokeWidth":2,"labelFont":"DejaVu Sans","labelFontSize":10.5,"labelFontStyle":"italic","labelColor":"#000","gridAlign":"all","columnPadding":13,"rowPadding":1,"labelOffset":8}
}
}
